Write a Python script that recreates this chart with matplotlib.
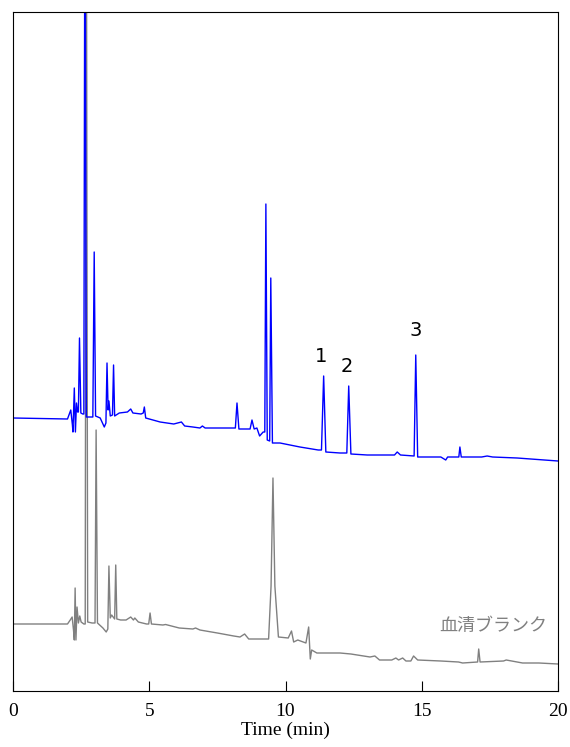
import matplotlib
matplotlib.use("Agg")
import matplotlib.pyplot as plt

# sample trace (blue), retention time in min and detector signal (arb. units)
sample_t = [0.0, 2.0, 2.12, 2.18, 2.2, 2.25, 2.29, 2.33, 2.37, 2.40, 2.44, 2.49, 2.56, 2.60,
            2.64, 2.69, 2.82, 2.93, 2.98, 3.03, 3.2, 3.35, 3.41, 3.45, 3.49, 3.52, 3.57,
            3.65, 3.69, 3.73, 3.9, 4.2, 4.32, 4.4, 4.7, 4.78, 4.82, 4.87, 5.4, 5.9, 6.18,
            6.3, 6.6, 6.86, 6.95, 7.05, 7.5, 8.16, 8.22, 8.29, 8.7, 8.77, 8.85, 8.95, 9.05,
            9.18, 9.24, 9.28, 9.33, 9.42, 9.46, 9.52, 9.8, 10.53, 11.2, 11.32, 11.4, 11.48,
            12.0, 12.25, 12.32, 12.40, 13.0, 14.0, 14.1, 14.22, 14.72, 14.78, 14.85, 15.7,
            15.88, 15.95, 16.36, 16.4, 16.45, 17.2, 17.4, 17.6, 18.5, 20.0]
sample_y = [273, 272, 281, 266, 259, 303, 259, 288, 279, 279, 353, 278, 277, 277,
            850, 274, 274, 274, 439, 275, 273, 264, 268, 328, 281, 290, 275,
            276, 326, 275, 278, 279, 282, 278, 277, 278, 284, 273, 269, 267, 269,
            265, 264, 263, 265, 263, 263, 263, 288, 262, 262, 271, 262, 263, 255,
            259, 259, 487, 251, 250, 413, 248, 248, 244, 241, 241, 315, 239,
            238, 238, 305, 237, 236, 236, 239, 236, 235, 336, 234, 234,
            231, 234, 234, 244, 234, 234, 235, 234, 233, 230]

# serum blank (gray)
blank_t = [0.0, 2.0, 2.1, 2.17, 2.22, 2.25, 2.28, 2.31, 2.35, 2.4, 2.45, 2.5, 2.6, 2.65,
           2.69, 2.74, 2.9, 3.01, 3.05, 3.10, 3.3, 3.42, 3.48, 3.52, 3.57, 3.62, 3.73, 3.77,
           3.81, 3.95, 4.15, 4.32, 4.42, 4.47, 4.6, 4.9, 4.98, 5.03, 5.08, 5.5, 5.6, 6.1,
           6.6, 6.7, 6.86, 7.5, 8.1, 8.33, 8.5, 8.65, 9.38, 9.47, 9.54, 9.61, 9.74, 10.1,
           10.22, 10.3, 10.45, 10.75, 10.85, 10.91, 10.96, 11.15, 12.0, 12.4, 13.1, 13.28,
           13.45, 13.9, 14.05, 14.15, 14.3, 14.42, 14.6, 14.7, 14.85, 15.7, 16.35, 16.5,
           17.05, 17.09, 17.14, 18.0, 18.1, 18.7, 19.3, 20.0]
blank_y = [67, 67, 71, 74, 61, 51, 103, 51, 84, 68, 75, 69, 67, 67,
           850, 69, 68, 68, 261, 68, 63, 59, 62, 125, 73, 76, 72, 126,
           72, 71, 71, 74, 71, 73, 69, 67, 67, 78, 67, 66, 66.5, 63,
           62, 63, 61, 58, 55, 54, 57, 52, 52, 105, 213, 105, 54, 53,
           60, 49, 51, 48, 64, 32, 41, 38, 38, 37, 34, 35,
           31, 31, 33, 31, 33, 30, 30, 35, 31, 30, 29, 28,
           29, 42, 29, 30, 31, 28, 28, 27]

peak_labels = ["1", "2", "3"]
peak_label_t = [11.3, 12.25, 14.78]
peak_label_y = [335, 325, 361]

fig = plt.figure(figsize=(5.7, 7.47), dpi=100)
ax = fig.add_axes([13 / 570, 56 / 747, 545 / 570, 679 / 747])

ax.plot(blank_t, blank_y, color="#808080", lw=1.0)
ax.plot(sample_t, sample_y, color="#0000ff", lw=1.0)

for lab, t, y in zip(peak_labels, peak_label_t, peak_label_y):
    ax.text(t, y, lab, ha="center", va="center", fontsize=14, family="DejaVu Sans")

ax.text(19.62, 65, "血清ブランク", ha="right", va="center", fontsize=13,
        color="#808080", family=["Noto Sans CJK JP", "DejaVu Sans"])

ax.set_xlim(0, 20)
ax.set_ylim(0, 679)
ax.set_yticks([])
ax.set_xticks([0, 5, 10, 15, 20])
ax.tick_params(axis="x", direction="in", length=7, pad=9, labelsize=14)
for lbl in ax.get_xticklabels():
    lbl.set_family("Liberation Serif")
ax.set_xlabel("Time (min)", family="Liberation Serif", fontsize=14, labelpad=1)

fig.savefig("out.png", dpi=100)
